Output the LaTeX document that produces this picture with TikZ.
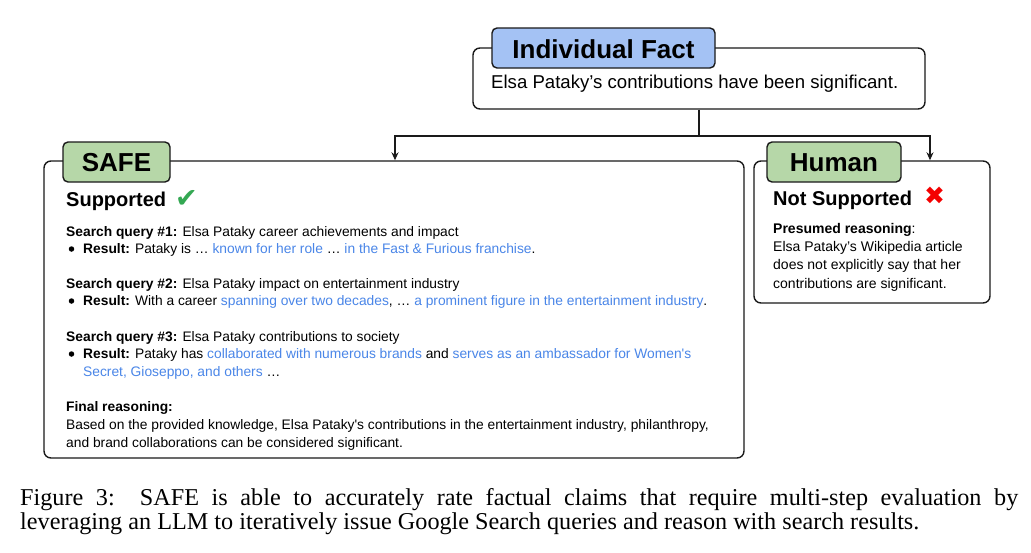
\documentclass[tikz,border=0pt]{standalone}
\usepackage{fontspec}
\setmainfont{Liberation Sans}
\newfontfamily\capfont{Liberation Serif}
\newfontfamily\symfont{DejaVu Sans}
\usetikzlibrary{arrows.meta}
\definecolor{tabblue}{HTML}{A4C2F4}
\definecolor{tabgreen}{HTML}{B6D7A8}
\definecolor{linkblue}{HTML}{4A86E8}
\definecolor{okgreen}{HTML}{34A853}
\definecolor{nored}{HTML}{F40000}
\definecolor{edge}{HTML}{1A1A1A}
\newcommand{\lnk}[1]{\textcolor{linkblue}{#1}}
\begin{document}
\begin{tikzpicture}[x=1pt,y=-1pt,
  box/.style={draw=edge,line width=1.4pt,rounded corners=7pt,fill=white,inner sep=0pt},
  tabbox/.style={draw=edge,line width=1.4pt,rounded corners=5pt,inner sep=0pt},
  tabtxt/.style={anchor=base,inner sep=0pt,font=\fontsize{26}{28}\selectfont\bfseries},
  head/.style={anchor=base west,inner sep=0pt,font=\fontsize{20}{22}\selectfont\bfseries},
  txt/.style={anchor=base west,inner sep=0pt,font=\fontsize{13.8}{17.5}\selectfont},
  htxt/.style={anchor=base west,inner sep=0pt,font=\fontsize{14}{18.5}\selectfont},
  captxt/.style={anchor=base west,inner sep=0pt,font=\capfont\fontsize{24.2}{24}\selectfont},
  bul/.style={circle,fill=black,inner sep=0pt,minimum size=5.5pt},
  conn/.style={draw=edge,line width=1.4pt},
  arr/.style={conn,-{Stealth[length=8pt,width=7pt]}}
]
\useasboundingbox (0,0) rectangle (1031,552);
\fill[white] (0,0) rectangle (1031,552);

% Individual fact
\node[box,minimum width=452pt,minimum height=61pt] (fact) at (699,78.5) {};
\node[tabbox,fill=tabblue,minimum width=223pt,minimum height=40pt] (facttab) at (603.5,48) {};
\node[tabtxt] (facttitle) at (603.5,58) {Individual Fact};
\node[anchor=base west,inner sep=0pt,font=\fontsize{18.6}{20}\selectfont] (facttext) at (491,88.3) {Elsa Pataky’s contributions have been significant.};

% SAFE box
\node[box,minimum width=700pt,minimum height=297pt] (safe) at (394,309.5) {};
\node[tabbox,fill=tabgreen,minimum width=107pt,minimum height=40pt] (safetab) at (116.5,162) {};
\node[tabtxt] (safetitle) at (116.5,171.5) {SAFE};
\node[head] (sup) at (66,206.5) {Supported};
\node[anchor=base west,inner sep=0pt,text=okgreen,font=\symfont\fontsize{27}{28}\selectfont] (check) at (175,207.5) {✔};

\node[txt] (q1) at (66,236.5) {\textbf{Search query \#1:} Elsa Pataky career achievements and impact};
\node[bul] (b1) at (71.5,249) {};
\node[txt] (r1) at (83,253.5) {\textbf{Result:} Pataky is … \lnk{known for her role} … \lnk{in the Fast \& Furious franchise}.};
\node[txt] (q2) at (66,288.5) {\textbf{Search query \#2:} Elsa Pataky impact on entertainment industry};
\node[bul] (b2) at (71.5,301) {};
\node[txt] (r2) at (83,305.5) {\textbf{Result:} With a career \lnk{spanning over two decades}, … \lnk{a prominent figure in the entertainment industry}.};
\node[txt] (q3) at (66,341.5) {\textbf{Search query \#3:} Elsa Pataky contributions to society};
\node[bul] (b3) at (71.5,354) {};
\node[txt] (r3) at (83,358.5) {\textbf{Result:} Pataky has \lnk{collaborated with numerous brands} and \lnk{serves as an ambassador for Women\textquotesingle s}};
\node[txt] (r3b) at (83,376.5) {\lnk{Secret, Gioseppo, and others} …};
\node[txt] (fin) at (66,411.5) {\textbf{Final reasoning:}};
\node[txt] (fin2) at (66,429.5) {Based on the provided knowledge, Elsa Pataky\textquotesingle s contributions in the entertainment industry, philanthropy,};
\node[txt] (fin3) at (66,447) {and brand collaborations can be considered significant.};

% Human box
\node[box,minimum width=236pt,minimum height=142pt] (human) at (872,232) {};
\node[tabbox,fill=tabgreen,minimum width=134pt,minimum height=40pt] (humantab) at (834,162) {};
\node[tabtxt] (humantitle) at (834,171.5) {Human};
\node[head] (nsup) at (773,205.5) {Not Supported};
\node[anchor=base west,inner sep=0pt,text=nored,font=\symfont\fontsize{25}{26}\selectfont] (cross) at (924,204) {✖};
\node[htxt] (pres) at (773,233) {\textbf{Presumed reasoning}:};
\node[htxt] (pres2) at (773,251.4) {Elsa Pataky’s Wikipedia article};
\node[htxt] (pres3) at (773,269.8) {does not explicitly say that her};
\node[htxt] (pres4) at (773,288.2) {contributions are significant.};

% connectors
\coordinate (jl) at (395,136);
\coordinate (jr) at (930,136);
\draw[conn] (fact.south) -- (fact.south |- jl);
\draw[arr] (fact.south |- jl) -- (jl) -- (jl |- safe.north);
\draw[arr] (fact.south |- jr) -- (jr) -- (jr |- human.north);

% caption
\node[captxt] (cap1) at (20,505.7) {\makebox[998pt][s]{Figure 3:\ \ SAFE is able to accurately rate factual claims that require multi-step evaluation by}};
\node[captxt] (cap2) at (20,529.5) {leveraging an LLM to iteratively issue Google Search queries and reason with search results.};
\end{tikzpicture}
\end{document}
